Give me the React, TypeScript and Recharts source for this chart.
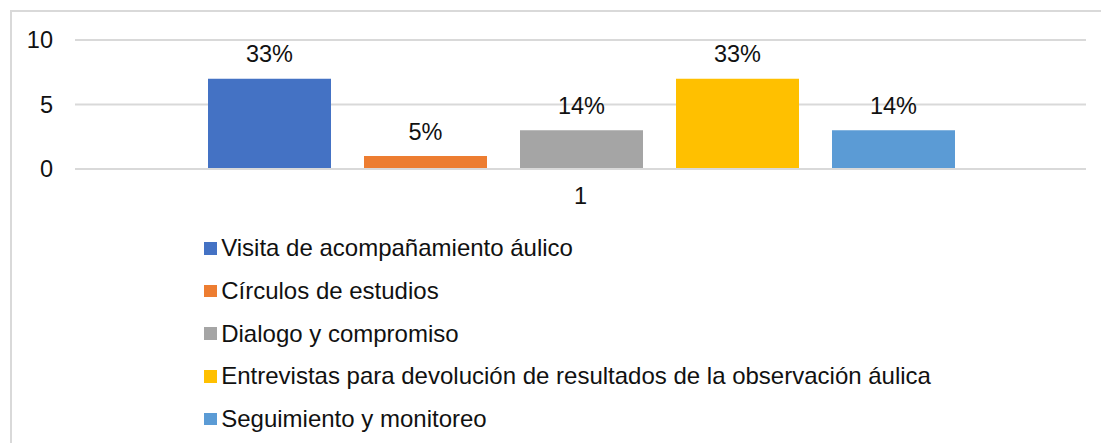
import React from 'react';
import { BarChart, Bar, XAxis, YAxis, CartesianGrid, Legend, LabelList } from 'recharts';

const category = '1';
const seriesNames = [
  'Visita de acompañamiento áulico',
  'Círculos de estudios',
  'Dialogo y compromiso',
  'Entrevistas para devolución de resultados de la observación áulica',
  'Seguimiento y monitoreo',
];
const seriesValues = [7, 1, 3, 7, 3];
const seriesLabels = ['33%', '5%', '14%', '33%', '14%'];
const seriesColors = ['#4472C4', '#ED7D31', '#A5A5A5', '#FFC000', '#5B9BD5'];
const yTicks = [0, 5, 10];

const row: Record<string, string | number> = { name: category };
seriesNames.forEach((n, i) => {
  row[`s${i}`] = seriesValues[i];
});
const data = [row];

const FONT = '"Liberation Sans", Arial, sans-serif';
const TEXT = '#111111';

const LegendContent = () => (
  <div style={{ fontFamily: FONT, fontSize: 24, color: TEXT }}>
    {seriesNames.map((n, i) => (
      <div key={n} style={{ display: 'flex', alignItems: 'center', height: 42.6, whiteSpace: 'nowrap' }}>
        <span style={{ display: 'inline-block', width: 12.7, height: 12.7, background: seriesColors[i], marginRight: 4.5 }} />
        <span>{n}</span>
      </div>
    ))}
  </div>
);

export default function App() {
  return (
    <div style={{ position: 'absolute', left: 0, top: 0, width: 1101, height: 443, background: '#fff', overflow: 'hidden' }}>
      <div style={{ position: 'absolute', left: 9.5, top: 9.5, width: 1200, height: 500, borderLeft: '2px solid #d9d9d9', borderTop: '2px solid #d9d9d9' }} />
      <div style={{ position: 'absolute', left: 0, top: 0 }}>
        <BarChart
          width={1101}
          height={443}
          data={data}
          margin={{ top: 40, right: 15, bottom: 234, left: 0 }}
          barCategoryGap={133}
          barGap={33}
        >
          <CartesianGrid vertical={false} stroke="#d9d9d9" strokeWidth={2} />
          <XAxis
            dataKey="name"
            axisLine={{ stroke: '#d9d9d9', strokeWidth: 2 }}
            tickLine={false}
            height={40}
            tickMargin={12}
            tick={{ fill: TEXT, fontFamily: FONT, fontSize: 23.5 }}
          />
          <YAxis
            domain={[0, 10]}
            ticks={yTicks}
            width={75}
            axisLine={false}
            tickLine={false}
            tickMargin={16}
            tick={{ fill: TEXT, fontFamily: FONT, fontSize: 23.5 }}
          />
          {seriesNames.map((n, i) => (
            <Bar key={n} dataKey={`s${i}`} name={n} fill={seriesColors[i]} isAnimationActive={false}>
              <LabelList
                dataKey={`s${i}`}
                position="top"
                offset={16.5}
                formatter={() => seriesLabels[i]}
                style={{ fill: TEXT, fontFamily: FONT, fontSize: 23.5 }}
              />
            </Bar>
          ))}
          <Legend
            layout="vertical"
            align="center"
            verticalAlign="middle"
            content={<LegendContent />}
            wrapperStyle={{ top: 227.2, left: 204, width: 'auto', height: 'auto' }}
          />
        </BarChart>
      </div>
    </div>
  );
}
